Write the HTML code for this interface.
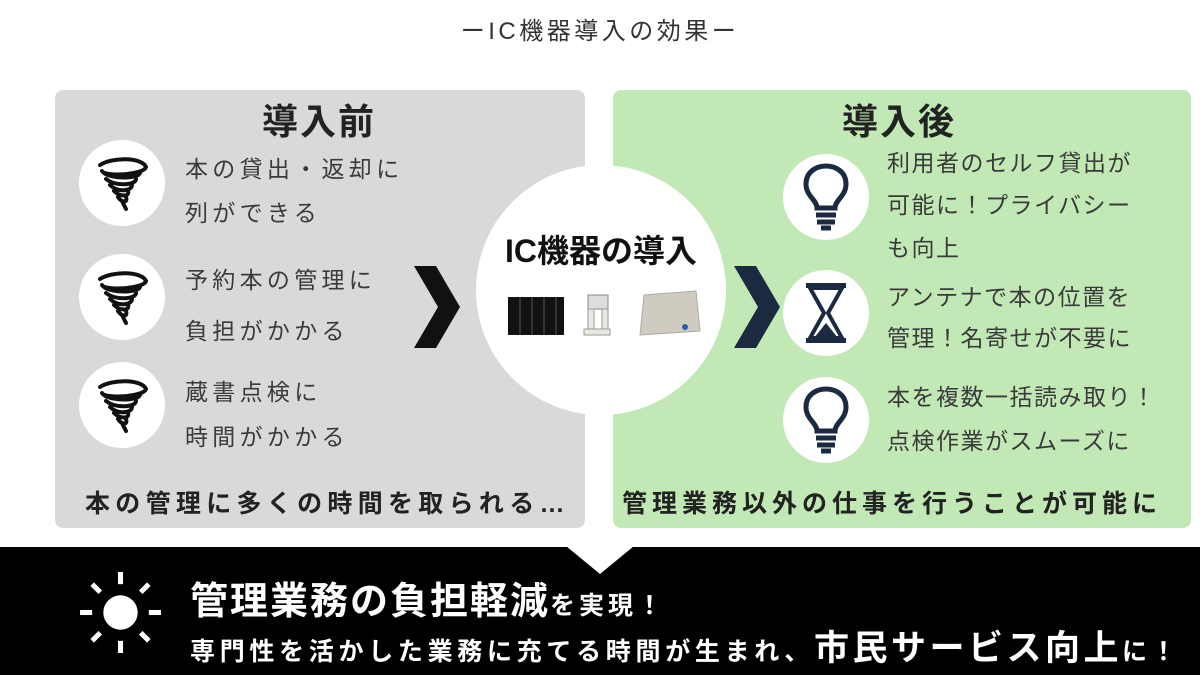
<!DOCTYPE html>
<html><head><meta charset="utf-8"><style>
*{margin:0;padding:0;box-sizing:border-box}
body{width:1200px;height:675px;background:#fff;position:relative;overflow:hidden;font-family:"Liberation Sans","Noto Sans CJK JP",sans-serif;}
.a{position:absolute;white-space:nowrap}
.t{font-size:23px;color:#3a3a3a;letter-spacing:4.3px}
.r{letter-spacing:1.5px}
.c{position:absolute;width:86px;height:86px;border-radius:50%;background:#fff;display:flex;align-items:center;justify-content:center}
</style></head><body>
<div class="a" style="left:0;width:1200px;top:11px;text-align:center;font-size:24px;color:#333;letter-spacing:3.5px">ーIC機器導入の効果ー</div>
<div class="a" style="left:55px;top:90px;width:530px;height:438px;background:#d9d9d9;border-radius:8px"></div>
<div class="a" style="left:613px;top:90px;width:578px;height:438px;background:#c2e8b6;border-radius:8px"></div>
<div class="a" style="left:262px;top:93px;font-size:36px;font-weight:bold;color:#222;letter-spacing:2px">導入前</div>
<div class="a" style="left:842px;top:93px;font-size:36px;font-weight:bold;color:#222;letter-spacing:2px">導入後</div>

<svg width="0" height="0" style="position:absolute"><defs>
<g id="tor"><path d="M-22,-18 C-10,-26 20,-26 24,-16 C22,-8 -18,-6 -20,-12 M-18,-10 C-10,-4 16,-4 18,-10 M-16,-4 C-6,4 14,2 14,-4 M-12,2 C-4,10 10,8 10,2 M-8,8 C-2,14 8,14 6,8 M-4,14 C0,20 6,20 4,14 M0,18 L4,26" stroke="#111" stroke-width="4" fill="none" stroke-linecap="round"/></g>
<g id="bulb" fill="none" stroke="#1b2a40" stroke-width="5"><path d="M-9,8 C-9,0 -20,-4 -20,-16 C-20,-28 -10,-34 0,-34 C10,-34 20,-28 20,-16 C20,-4 9,0 9,8 Z"/><line x1="-10" y1="15" x2="10" y2="15"/><line x1="-9" y1="22" x2="9" y2="22"/><path d="M-5,28 L5,28" stroke-width="5"/></g>
</defs></svg>

<div class="c" style="left:79px;top:140px"><svg width="60" height="60" viewBox="-30 -30 60 60"><use href="#tor"/></svg></div>
<div class="c" style="left:79px;top:254px"><svg width="60" height="60" viewBox="-30 -30 60 60"><use href="#tor"/></svg></div>
<div class="c" style="left:79px;top:362px"><svg width="60" height="60" viewBox="-30 -30 60 60"><use href="#tor"/></svg></div>

<div class="a t" style="left:185px;top:150px">本の貸出・返却に</div>
<div class="a t" style="left:185px;top:194px">列ができる</div>
<div class="a t" style="left:185px;top:261px">予約本の管理に</div>
<div class="a t" style="left:185px;top:312px">負担がかかる</div>
<div class="a t" style="left:185px;top:373px">蔵書点検に</div>
<div class="a t" style="left:185px;top:418px">時間がかかる</div>
<div class="a" style="left:85px;top:484px;font-size:25px;font-weight:bold;color:#222;letter-spacing:5.3px">本の管理に多くの時間を取られる…</div>

<svg class="a" style="left:412px;top:266px" width="50" height="82"><polygon points="2,0 24,0 48,41 24,82 2,82 26,41" fill="#111"/></svg>
<svg class="a" style="left:732px;top:266px" width="50" height="82"><polygon points="2,0 24,0 48,41 24,82 2,82 26,41" fill="#1b2a40"/></svg>

<div class="a" style="left:476px;top:165px;width:250px;height:250px;border-radius:50%;background:#fff"></div>
<div class="a" style="left:476px;top:226px;width:250px;text-align:center;font-size:32px;font-weight:bold;color:#111">IC機器の導入</div>
<svg class="a" style="left:500px;top:285px" width="210" height="60">
<rect x="8" y="12" width="56" height="38" fill="#111"/><path d="M20,12v38M32,12v38M44,12v38M56,12v38" stroke="#333" stroke-width="2"/>
<rect x="88" y="10" width="20" height="14" fill="#ddd" stroke="#888"/><rect x="88" y="24" width="6" height="22" fill="#e8e8e0" stroke="#999"/><rect x="102" y="24" width="6" height="22" fill="#e8e8e0" stroke="#999"/><rect x="84" y="44" width="26" height="6" fill="#e8e8e0" stroke="#999"/>
<polygon points="144,10 196,6 200,46 140,50" fill="#cfcbc0" stroke="#aaa"/><circle cx="185" cy="42" r="3" fill="#2a5db0"/>
</svg>

<div class="c" style="left:783px;top:154px"><svg width="60" height="70" viewBox="-30 -38 60 70"><use href="#bulb"/></svg></div>
<div class="c" style="left:783px;top:270px"><svg width="60" height="70" viewBox="-30 -35 60 70"><g fill="#1b2a40"><rect x="-20" y="-30" width="40" height="5"/><rect x="-20" y="25" width="40" height="5"/><path d="M-16,-25 L16,-25 L2,0 L16,25 L-16,25 L-2,0 Z" fill="none" stroke="#1b2a40" stroke-width="4"/><path d="M-12,25 L0,10 L12,25 Z"/></g></svg></div>
<div class="c" style="left:783px;top:377px"><svg width="60" height="70" viewBox="-30 -38 60 70"><use href="#bulb"/></svg></div>

<div class="a t r" style="left:887px;top:144px">利用者のセルフ貸出が</div>
<div class="a t r" style="left:887px;top:186px">可能に！プライバシー</div>
<div class="a t r" style="left:887px;top:229px">も向上</div>
<div class="a t r" style="left:887px;top:278px">アンテナで本の位置を</div>
<div class="a t r" style="left:887px;top:319px">管理！名寄せが不要に</div>
<div class="a t r" style="left:887px;top:378px">本を複数一括読み取り！</div>
<div class="a t r" style="left:887px;top:422px">点検作業がスムーズに</div>
<div class="a" style="left:622px;top:484px;font-size:25px;font-weight:bold;color:#222;letter-spacing:5px">管理業務以外の仕事を行うことが可能に</div>

<div class="a" style="left:0;top:547px;width:1200px;height:128px;background:#000"></div>
<svg class="a" style="left:566px;top:546px" width="68" height="30"><polygon points="0,0 68,0 34,28" fill="#fff"/></svg>
<svg class="a" style="left:78px;top:570px" width="85" height="85" viewBox="-42 -42 84 84"><circle r="17" fill="#fff"/><g stroke="#fff" stroke-width="5"><line x1="0" y1="-40" x2="0" y2="-28"/><line x1="0" y1="28" x2="0" y2="40"/><line x1="-40" y1="0" x2="-28" y2="0"/><line x1="28" y1="0" x2="40" y2="0"/><line x1="-28" y1="-28" x2="-20" y2="-20"/><line x1="20" y1="20" x2="28" y2="28"/><line x1="28" y1="-28" x2="20" y2="-20"/><line x1="-28" y1="28" x2="-20" y2="20"/></g></svg>
<div class="a" style="left:190px;top:570px;color:#fff;font-weight:bold"><span style="font-size:38px;letter-spacing:2px">管理業務の負担軽減</span><span style="font-size:25px;letter-spacing:4px">を実現！</span></div>
<div class="a" style="left:190px;top:620px;color:#fff;font-weight:bold"><span style="font-size:25px;letter-spacing:4.7px">専門性を活かした業務に充てる時間が生まれ、</span><span style="font-size:35px;letter-spacing:3.5px">市民サービス向上</span><span style="font-size:25px;letter-spacing:4px">に！</span></div>
</body></html>
